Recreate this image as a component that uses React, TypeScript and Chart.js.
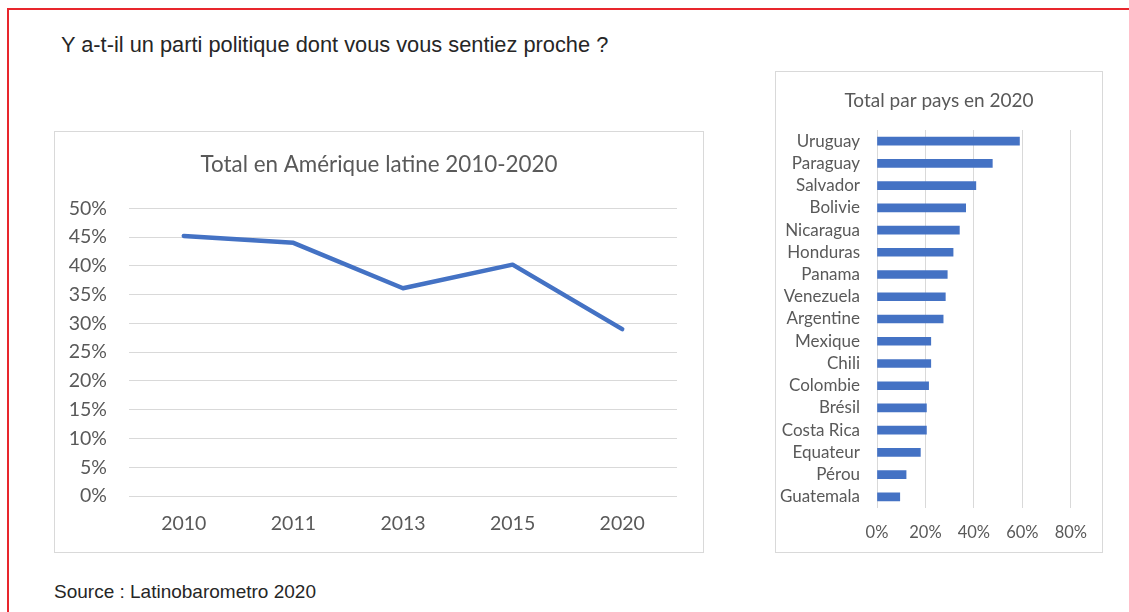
import React, { useEffect, useRef } from "react";
import { Chart, registerables } from "chart.js";

Chart.register(...registerables);

// ---- Data ----
const years: string[] = ["2010", "2011", "2013", "2015", "2020"];
const totalShare: number[] = [0.452, 0.44, 0.361, 0.402, 0.29];

const countries: string[] = [
  "Uruguay", "Paraguay", "Salvador", "Bolivie", "Nicaragua", "Honduras",
  "Panama", "Venezuela", "Argentine", "Mexique", "Chili", "Colombie",
  "Brésil", "Costa Rica", "Equateur", "Pérou", "Guatemala",
];
const countryShare: number[] = [
  0.588, 0.476, 0.408, 0.366, 0.34, 0.314, 0.29, 0.282, 0.273, 0.222,
  0.222, 0.213, 0.204, 0.204, 0.179, 0.12, 0.094,
];

const pageTitle = "Y a-t-il un parti politique dont vous vous sentiez proche ?";
const lineTitle = "Total en Amérique latine 2010-2020";
const barTitle = "Total par pays en 2020";
const sourceText = "Source : Latinobarometro 2020";

const CHART_FONT = "Lato, 'Open Sans', sans-serif";
const TEXT_COLOR = "#595959";
const GRID_COLOR = "#D9D9D9";
const BLUE = "#4472C4";

const pct = (v: any) => Math.round(Number(v) * 100) + "%";

// an invisible right-hand axis that only reserves space, so titles stay centred on the box
const spacerAxis = (w: number) => ({
  type: "linear" as const,
  position: "right" as const,
  display: true,
  grid: { display: false, drawTicks: false },
  border: { display: false },
  ticks: { display: false },
  afterFit: (s: any) => {
    s.width = w;
  },
});

function LineChart() {
  const ref = useRef<HTMLCanvasElement | null>(null);
  useEffect(() => {
    if (!ref.current) return;
    const chart = new Chart(ref.current, {
      type: "line",
      data: {
        labels: years,
        datasets: [
          {
            data: totalShare,
            borderColor: BLUE,
            borderWidth: 4.5,
            pointRadius: 0,
            tension: 0,
            borderCapStyle: "round",
            borderJoinStyle: "round",
            fill: false,
            yAxisID: "y",
          },
        ],
      },
      options: {
        responsive: false,
        maintainAspectRatio: false,
        animation: false,
        layout: { padding: 0 },
        plugins: {
          legend: { display: false },
          tooltip: { enabled: false },
          title: {
            display: true,
            text: lineTitle,
            color: TEXT_COLOR,
            font: { family: CHART_FONT, size: 22.4, weight: "normal", lineHeight: 1.2 },
            padding: { top: 19, bottom: 30.4 },
          },
        },
        scales: {
          x: {
            offset: true,
            grid: { display: false, drawTicks: false },
            border: { display: false },
            ticks: {
              color: TEXT_COLOR,
              font: { family: CHART_FONT, size: 19.5, lineHeight: 1.2 },
              padding: 16,
              maxRotation: 0,
            },
            afterFit: (s: any) => {
              s.height = 56;
            },
          },
          y: {
            min: 0,
            max: 0.5,
            ticks: {
              stepSize: 0.05,
              callback: pct,
              color: TEXT_COLOR,
              font: { family: CHART_FONT, size: 19.5, lineHeight: 1.2 },
              padding: 22,
            },
            grid: { color: GRID_COLOR, drawTicks: false, lineWidth: 1 },
            border: { display: false },
            afterFit: (s: any) => {
              s.width = 74;
            },
          },
          yRight: spacerAxis(26),
        },
      },
    });
    return () => chart.destroy();
  }, []);
  return <canvas ref={ref} width={648} height={420} style={{ display: "block" }} />;
}

function BarChart() {
  const ref = useRef<HTMLCanvasElement | null>(null);
  useEffect(() => {
    if (!ref.current) return;
    const chart = new Chart(ref.current, {
      type: "bar",
      data: {
        labels: countries,
        datasets: [
          {
            data: countryShare,
            backgroundColor: BLUE,
            barThickness: 8,
            xAxisID: "x",
            yAxisID: "y",
          },
        ],
      },
      options: {
        indexAxis: "y",
        responsive: false,
        maintainAspectRatio: false,
        animation: false,
        layout: { padding: 0 },
        plugins: {
          legend: { display: false },
          tooltip: { enabled: false },
          title: {
            display: true,
            text: barTitle,
            color: TEXT_COLOR,
            font: { family: CHART_FONT, size: 19, weight: "normal", lineHeight: 1.2 },
            padding: { top: 17, bottom: 18.2 },
          },
        },
        scales: {
          x: {
            min: 0,
            max: 0.8,
            ticks: {
              stepSize: 0.2,
              callback: pct,
              color: TEXT_COLOR,
              font: { family: CHART_FONT, size: 16.5, lineHeight: 1.2 },
              padding: 15,
              maxRotation: 0,
            },
            grid: { color: GRID_COLOR, drawTicks: false, lineWidth: 1 },
            border: { display: false },
            afterFit: (s: any) => {
              s.height = 44;
            },
          },
          y: {
            grid: { display: false, drawTicks: false },
            border: { display: false },
            ticks: {
              color: TEXT_COLOR,
              font: { family: CHART_FONT, size: 17, lineHeight: 1.2 },
              padding: 17,
              autoSkip: false,
            },
            afterFit: (s: any) => {
              s.width = 101;
            },
          },
          yRight: spacerAxis(28),
        },
      },
    });
    return () => chart.destroy();
  }, []);
  return <canvas ref={ref} width={326} height={480} style={{ display: "block" }} />;
}

export default function App() {
  return (
    <div
      style={{
        position: "absolute",
        left: 0,
        top: 0,
        width: 1129,
        height: 612,
        overflow: "hidden",
        background: "#ffffff",
      }}
    >
      <div
        style={{
          position: "absolute",
          left: 7,
          top: 8,
          width: 1300,
          height: 800,
          borderTop: "2px solid #E8262D",
          borderLeft: "2px solid #E8262D",
        }}
      />
      <div
        style={{
          position: "absolute",
          left: 61,
          top: 32,
          fontFamily: "'Liberation Sans', Arial, sans-serif",
          fontSize: 21.8,
          lineHeight: "26px",
          color: "#262626",
          whiteSpace: "nowrap",
        }}
      >
        {pageTitle}
      </div>
      <div
        style={{
          position: "absolute",
          left: 54,
          top: 131,
          width: 650,
          height: 422,
          boxSizing: "border-box",
          border: "1px solid " + GRID_COLOR,
        }}
      >
        <LineChart />
      </div>
      <div
        style={{
          position: "absolute",
          left: 775,
          top: 71,
          width: 328,
          height: 482,
          boxSizing: "border-box",
          border: "1px solid " + GRID_COLOR,
        }}
      >
        <BarChart />
      </div>
      <div
        style={{
          position: "absolute",
          left: 54,
          top: 580,
          fontFamily: "'Liberation Sans', Arial, sans-serif",
          fontSize: 19,
          lineHeight: "24px",
          color: "#262626",
          whiteSpace: "nowrap",
        }}
      >
        {sourceText}
      </div>
    </div>
  );
}
